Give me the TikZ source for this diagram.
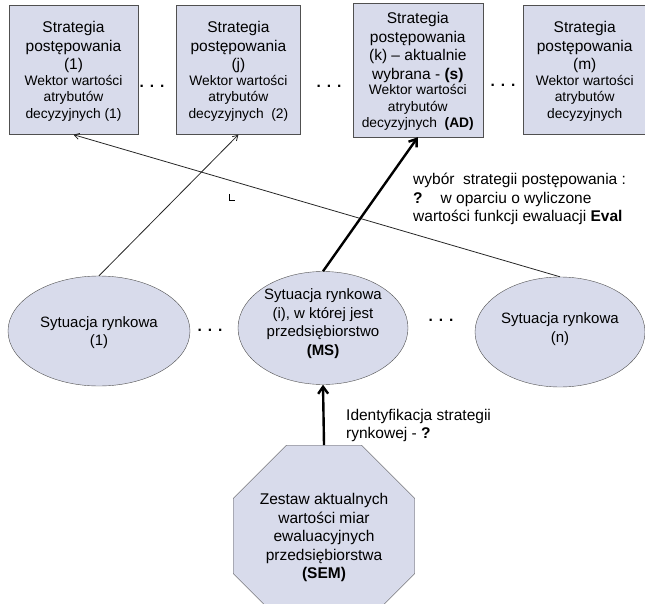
\documentclass[tikz,border=0pt]{standalone}
\usepackage{fontspec}
\setmainfont{Liberation Sans}
\usetikzlibrary{arrows.meta, positioning, shapes.geometric}

\definecolor{boxfill}{RGB}{216,219,235}
\definecolor{edgegray}{RGB}{80,80,80}
\newcommand{\bigtxt}{\fontsize{15.5}{18.5}\selectfont}
\newcommand{\smalltxt}{\fontsize{13.8}{16.5}\selectfont}

\begin{document}
\begin{tikzpicture}[x=1pt, y=-1pt, inner sep=0pt, box/.style={draw=edgegray, fill=boxfill, align=center, font=\bigtxt, minimum height=129pt, text depth=-6pt}, situation/.style={ellipse, draw=edgegray, fill=boxfill, align=center, font=\fontsize{15}{18.5}\selectfont, minimum height=110pt}, dots/.style={font=\bigtxt\bfseries}, note/.style={align=left, anchor=north west, font=\bigtxt}, thinarrow/.style={-{Straight Barb[length=5pt,width=6pt]}, draw=black!85, line width=0.8pt}, thickarrow/.style={-{Straight Barb[length=7pt,width=10pt]}, line width=2.4pt}]

\useasboundingbox (0,0) rectangle (645,604);

% strategie postepowania
\node[box, minimum width=129pt] (str1) at (73.5,70) {Strategia\\postępowania\\(1)\\[-3pt]\smalltxt Wektor wartości\\[-2pt]\smalltxt atrybutów\\[-2pt]\smalltxt decyzyjnych (1)};
\node[box, minimum width=124pt, right=38pt of str1] (strj) {Strategia\\postępowania\\(j)\\[-3pt]\smalltxt Wektor wartości\\[-2pt]\smalltxt atrybutów\\[-2pt]\smalltxt decyzyjnych \ (2)};
\node[box, minimum width=130pt, minimum height=134pt, right=52pt of strj] (strk) {Strategia\\postępowania\\(k) -- aktualnie\\wybrana - \textbf{(s)}\\[-3pt]\smalltxt Wektor wartości\\[-2pt]\smalltxt atrybutów\\[-2pt]\smalltxt decyzyjnych \ \textbf{(AD)}};
\node[box, minimum width=123pt, right=40pt of strk] (strm) {Strategia\\postępowania\\(m)\\[-3pt]\smalltxt Wektor wartości\\[-2pt]\smalltxt atrybutów\\[-2pt]\smalltxt decyzyjnych};

\node[dots] (dots1) at (152,86) {.\hspace{6pt}.\hspace{6pt}.};
\node[dots] (dots2) at (329,86) {.\hspace{6pt}.\hspace{6pt}.};
\node[dots] (dots3) at (503,85) {.\hspace{6pt}.\hspace{6pt}.};

% sytuacje rynkowe
\node[situation, minimum width=182pt, text depth=-4pt] (sit1) at (99,331) {Sytuacja rynkowa\\(1)};
\node[situation, minimum width=170pt, minimum height=113pt, text depth=12pt] (sitms) at (323,328) {Sytuacja rynkowa\\(i), w której jest\\przedsiębiorstwo\\\textbf{(MS)}};
\node[situation, minimum width=170pt, text depth=9pt] (sitn) at (560,332) {Sytuacja rynkowa\\(n)};

\node[dots] (dots4) at (210,330) {.\hspace{6pt}.\hspace{6pt}.};
\node[dots] (dots5) at (441,320) {.\hspace{6pt}.\hspace{6pt}.};

% SEM
\node[regular polygon, regular polygon sides=8, draw=edgegray, fill=boxfill, minimum size=175pt, align=center, font=\bigtxt, text depth=-4pt] (sem) at (324,536) {Zestaw aktualnych\\wartości miar\\ewaluacyjnych\\przedsiębiorstwa\\\textbf{(SEM)}};

% opisy
\node[note] (wybor) at (413,173) {wybór \ strategii postępowania :\\\textbf{?}\hspace{18pt}w oparciu o wyliczone\\wartości funkcji ewaluacji \textbf{Eval}};
\node[note, font=\fontsize{15.5}{18}\selectfont] (ident) at (346,409) {Identyfikacja strategii\\rynkowej - \textbf{?}};

\draw[thinarrow] (sitn.north) -- (str1.south);
\draw[thinarrow] (sit1.north) -- (strj.south);
\draw[thickarrow] (sitms.north) -- (strk.south);
\draw[thickarrow] (sem.north) -- (sitms.south);

\draw[line width=0.6pt] (229,194) -- (229,200) -- (235,200);

\end{tikzpicture}
\end{document}
